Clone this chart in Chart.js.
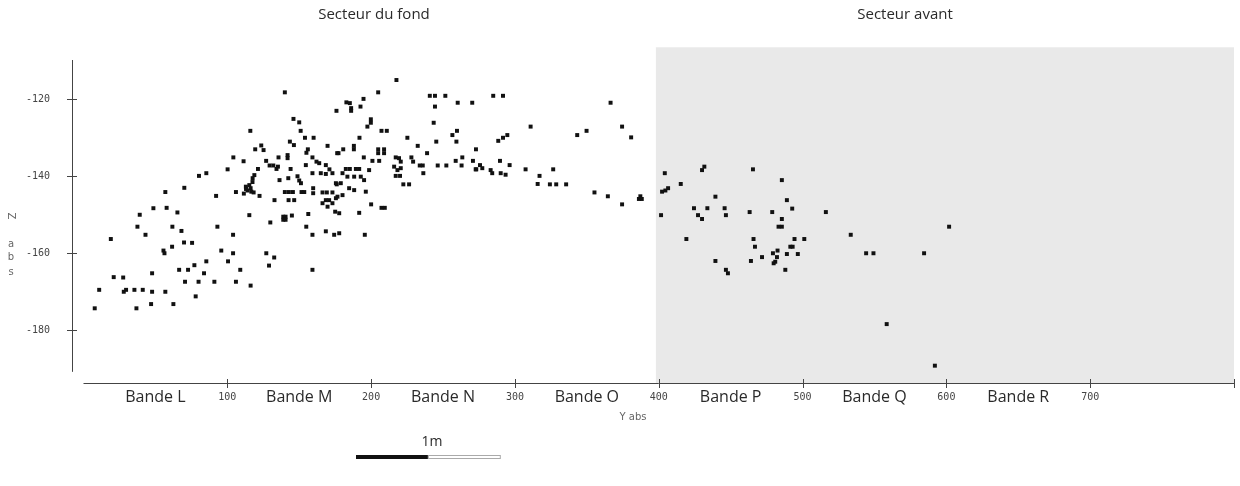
<!DOCTYPE html>
<html>
<head>
<meta charset="utf-8">
<script src="https://cdn.jsdelivr.net/npm/chart.js@4/dist/chart.umd.min.js"></script>
<style>
    html, body { margin: 0; background: #fff; }
    #wrap { width: 1240px; height: 486px; }
</style>
</head>
<body>
<div id="wrap"><canvas id="scatterChart"></canvas></div>
<script>
// Y obs (cm) and Z abs (cm) for each object
const yObs = [
    140, 116, 146, 150, 151, 154, 160, 143.5, 146.3, 123.6, 119.4, 125.2, 156, 155, 104.2, 111.3, 135.6, 141.9, 141.9, 159.2,
    162, 163.9, 127, 129.4, 132, 135.2, 134.2, 121.3, 144, 136.3, 142.4, 148.8, 150, 151.2, 80.3, 85.4, 100.2, 118.8, 117.6,
    112.9, 115.3, 116.2, 114.1, 116.7, 118.3, 111.5, 113, 117.5,
    106, 122.4, 132.8, 140, 142.8, 145.6, 151.6, 153.5, 70.1, 56.9, 92.2, 142.6, 146.5, 48.6, 57.8, 65.3, 39.1, 115.3,
    138.9, 140.5, 138.9, 140.5, 144.9, 129.9, 37.5, 61.8, 43.1, 68.1, 93.1, 104, 154.9, 159.2, 168.5, 19, 61.6, 69.9, 75.5,
    55.6, 56.3, 95.8, 104, 127.1, 132.6, 129, 85.4, 100.5, 77.1, 66.5, 72.7, 109, 159.2, 47.7, 83.8, 21, 27.6, 70.6, 80, 91,
    106, 116.2, 10.9, 28, 29.6, 35.4, 41.2, 47.7, 56.9, 78, 7.8, 36.8, 47, 62.5,
    175.9, 169.7, 176.4, 168.5, 171, 173.1, 154.6, 159.2, 165, 168.5, 176.1, 159.7, 159.7, 166.2, 169.2, 173.1, 170.8, 168.5,
    175.5, 166.2, 169.7, 175, 156.3,
    217.6, 204.9, 240.8, 244.4, 251.6, 260.2, 270.3, 182.8, 185.2, 186.1, 186.1, 194.7, 192.6, 244.4, 199.8, 199.8, 197.4,
    243.5, 207.2, 210.9, 259.7, 256.5, 225.2, 191.9, 245.3, 259.3, 232.4, 188, 188, 180.6, 177.3, 204.9, 204.9, 209, 209,
    272.9, 238.9, 194.9, 200.9, 205.6, 217.1, 219.4, 220.6, 216, 220.6, 218.3, 217.1, 220.1, 228, 229.2, 263.4, 258.8, 270.8,
    233.8, 235.9, 246.3, 252.3, 262.9, 273.1, 236.3, 222.4, 226.4, 200, 207.2, 209.5, 191.7,
    182.4, 185.2, 189.4, 191.7, 180.1, 183.5, 188.2, 192.8, 195.1, 198.6, 175.5, 178.9, 184.7, 188.2, 180.1, 176.6, 196.3,
    177.8, 173.1,
    284.9, 291.7, 310.9, 288.4, 291.7, 294.7, 275.7, 277.3, 283.1, 284.2, 289.6, 290.1, 293.5, 296.3, 307.4, 315.8, 317.1,
    366.5, 374.5, 343.3, 349.8, 380.8, 272.7, 326.6, 324.3, 328.7, 335.6, 355.3, 364.6, 374.5, 386.2, 387.2, 388.2, 404.2,
    401.6, 195.6, 174.3, 177.8,
    430.1, 431.7, 465.5, 485.6, 415.3, 402.3, 404.6, 406.5, 439.4, 489.1, 424.5, 433.8, 445.8, 446.7, 463.2, 478.9, 492.8,
    516.2, 427.3, 430.1, 485.6, 483.3, 485.6, 419.2, 465.9, 494.4, 501.2, 466.9, 491.5, 493.1, 482.6, 479.4, 471.8, 489.1,
    496.7, 482.2, 481, 479.9, 439.4, 464.1, 488, 446.7, 448.1,
    533.5, 544.2, 549.3, 584.5, 601.9, 558.5, 592
];
const zAbs = [
    -118.2, -128.2, -125.1, -126, -128.2, -130, -130, -131, -131.9, -132, -133, -133.2, -133, -133.9, -135.1, -136.1, -135.1, -134.5, -135.3, -135.1,
    -136.2, -136.6, -136, -137.2, -137.2, -137.5, -138.1, -138.1, -138.1, -141, -140.5, -140, -141.1, -141.8, -139.9, -139.2, -138.2, -139.7, -140.5,
    -142.7, -142.3, -143.1, -143.7, -144, -144.2, -144.5, -143.3, -141.5,
    -144.1, -145.1, -146.2, -144.1, -144.1, -144.1, -144.1, -144.1, -143, -144.1, -145.1, -146.2, -146.2, -148.3, -148.2, -149.4, -150, -150.1,
    -150.5, -150.5, -151.3, -151.3, -150.2, -152, -153.1, -153.1, -155.2, -154.2, -153.1, -155.2, -153.1, -155.2, -154.3, -156.3, -158.3, -157.2, -157.3,
    -159.3, -160, -159.3, -160, -160, -161.1, -163.2, -162.1, -162.1, -163.1, -164.3, -164.3, -164.3, -164.3, -165.2, -165.2, -166.2, -166.3, -167.4, -167.4, -167.4,
    -167.4, -168.4, -169.5, -170, -169.5, -169.5, -169.5, -170, -170, -171.2, -174.3, -174.3, -173.2, -173.2,
    -123, -132.1, -134, -137.1, -138.2, -139.2, -137.1, -139.2, -139.2, -139.4, -142.1, -143.1, -144.4, -144.2, -144.2, -144.2, -146.2, -146.2,
    -145.7, -147, -147.9, -149.2, -149.8,
    -115, -118.2, -119.1, -119.1, -119.1, -120.9, -120.9, -120.8, -121, -122.3, -123, -119.9, -121.9, -121.9, -125.2, -126.1, -127.1,
    -126.1, -128.2, -128.2, -128.2, -129.3, -130, -130, -131, -131, -132.1, -132.1, -133, -133, -134, -133, -134, -133, -134,
    -133, -134, -135.1, -136, -136, -135.1, -135.3, -136.2, -137.5, -137.9, -138.4, -139.9, -139.9, -135.1, -136.2, -135.1, -136, -136,
    -137.2, -137.2, -137.2, -137.2, -137.2, -138.2, -139.2, -142.1, -142.1, -147.3, -148.2, -148.2, -149.5,
    -138.1, -138.1, -138.1, -138.1, -139.2, -140.1, -140.1, -140.1, -141, -138.4, -141.8, -141.8, -143.1, -143.6, -144.9, -145.3, -144,
    -149.6, -147,
    -119.1, -119.1, -127.1, -130.8, -130, -129.3, -137.1, -137.9, -138.4, -139.2, -136, -139.2, -139.6, -137.1, -138.2, -142, -139.9,
    -120.9, -127.1, -129.3, -128.2, -129.9, -138.2, -138.2, -142.1, -142.1, -142.1, -144.2, -145.2, -147.3, -145.9, -145.2, -145.9, -139.2,
    -150.1, -155.2, -155.2, -154.8,
    -138.4, -137.5, -138.2, -141, -142, -144, -143.7, -143.1, -145.3, -146.2, -148.3, -148.3, -148.3, -150.1, -149.3, -149.3, -148.4,
    -149.3, -150.1, -151.1, -151.1, -153.1, -153.1, -156.3, -156.3, -156.3, -156.3, -158.3, -158.3, -158.3, -159.3, -160, -161, -160.2,
    -160.2, -161, -162.2, -162.6, -162, -162, -164.3, -164.3, -165.2,
    -155.2, -160, -160, -160, -153.1, -178.4, -189.2
];

// axis ticks and band labels
const xTickValues = [100, 200, 300, 400, 500, 600, 700, 800];
const xTickLabels = ['100', '200', '300', '400', '500', '600', '700', ''];
const bandCenters = [50, 150, 250, 350, 450, 550, 650];
const bandLabels = ['Bande L', 'Bande M', 'Bande N', 'Bande O', 'Bande P', 'Bande Q', 'Bande R'];
const zTickValues = [-120, -140, -160, -180];

// sectors
const sectorNames = ['Secteur du fond', 'Secteur avant'];
const avantStart = 398;
const avantEnd = 800;

const monoFont = { family: 'DejaVu Sans Mono', size: 10, lineHeight: '16px' };
const bandFont = { family: 'Open Sans', size: 16, lineHeight: '16px' };

const points = yObs.map((v, i) => ({ x: v, y: zAbs[i] }));

const sectorPlugin = {
    id: 'sectors',
    beforeDatasetsDraw(chart) {
        const { ctx, chartArea, scales: { x, y } } = chart;
        const left = x.getPixelForValue(avantStart);
        const right = x.getPixelForValue(avantEnd);
        const top = y.getPixelForValue(-106.5);
        ctx.save();
        ctx.fillStyle = '#e9e9e9';
        ctx.fillRect(left, top, right - left, chartArea.bottom - top);
        ctx.restore();
    },
    afterDatasetsDraw(chart) {
        const { ctx, chartArea, scales: { x, y } } = chart;
        const bottom = chartArea.bottom;
        const yAxisX = chartArea.left;
        ctx.save();
        ctx.strokeStyle = '#444';
        ctx.lineWidth = 1;

        // x axis line and ticks
        ctx.beginPath();
        ctx.moveTo(x.getPixelForValue(0), bottom + 0.5);
        ctx.lineTo(x.getPixelForValue(800), bottom + 0.5);
        xTickValues.forEach(v => {
            const px = Math.round(x.getPixelForValue(v)) + 0.5;
            ctx.moveTo(px, bottom - 4);
            ctx.lineTo(px, bottom + 5);
        });
        // z axis line and ticks
        ctx.moveTo(yAxisX + 0.5, chartArea.top);
        ctx.lineTo(yAxisX + 0.5, y.getPixelForValue(-190.8));
        zTickValues.forEach(v => {
            const py = Math.round(y.getPixelForValue(v)) + 0.5;
            ctx.moveTo(yAxisX - 5, py);
            ctx.lineTo(yAxisX + 5, py);
        });
        ctx.stroke();

        // sector titles
        ctx.fillStyle = '#2a2a2a';
        ctx.font = '15px "Open Sans"';
        ctx.textAlign = 'center';
        ctx.textBaseline = 'middle';
        ctx.fillText(sectorNames[0], 374, 15);
        ctx.fillText(sectorNames[1], 905, 15);

        // axis titles
        ctx.fillStyle = '#666';
        ctx.font = '10px "DejaVu Sans"';
        ctx.fillText('Y abs', 633, 417);
        ctx.save();
        ctx.translate(11, 216);
        ctx.rotate(Math.PI / 2);
        ctx.fillText('Z', 0, 0);
        ctx.restore();
        ctx.fillText('a', 11, 244);
        ctx.fillText('b', 11, 257);
        ctx.fillText('s', 11, 272);

        // scale bar, 1 m = 100 units on the Y obs axis
        const barLen = x.getPixelForValue(100) - x.getPixelForValue(0);
        const barX = 356;
        ctx.fillStyle = '#111';
        ctx.fillRect(barX, 455, barLen / 2, 4);
        ctx.strokeStyle = '#aaa';
        ctx.strokeRect(barX + barLen / 2 + 0.5, 455.5, barLen / 2, 3);
        ctx.fillStyle = '#2a2a2a';
        ctx.font = '14px "Open Sans"';
        ctx.fillText('1m', barX + barLen / 2 + 4, 442);
        ctx.restore();
    }
};

new Chart(document.getElementById('scatterChart'), {
    type: 'scatter',
    data: {
        datasets: [{
            label: 'Z abs',
            data: points,
            pointStyle: 'rect',
            pointRadius: 2.8,
            borderWidth: 0,
            backgroundColor: '#111'
        }]
    },
    options: {
        responsive: true,
        maintainAspectRatio: false,
        animation: false,
        layout: { padding: { top: 60, right: 4, left: 0, bottom: 0 } },
        plugins: { legend: { display: false }, tooltip: { enabled: false } },
        scales: {
            x: {
                type: 'linear',
                min: -8,
                max: 800,
                grid: { display: false, drawTicks: false },
                border: { display: false },
                afterBuildTicks: axis => {
                    axis.ticks = bandCenters.concat(xTickValues).sort((a, b) => a - b).map(v => ({ value: v }));
                },
                afterFit: axis => { axis.height = 103; },
                ticks: {
                    autoSkip: false,
                    maxRotation: 0,
                    padding: 6,
                    callback: v => {
                        const b = bandCenters.indexOf(v);
                        if (b >= 0) return bandLabels[b];
                        return xTickLabels[xTickValues.indexOf(v)];
                    },
                    font: c => (c.tick && bandCenters.includes(c.tick.value)) ? bandFont : monoFont,
                    color: c => (c.tick && bandCenters.includes(c.tick.value)) ? '#2a2a2a' : '#444'
                }
            },
            y: {
                min: -193.7,
                max: -109.8,
                grid: { display: false, drawTicks: false },
                border: { display: false },
                afterBuildTicks: axis => {
                    axis.ticks = zTickValues.map(v => ({ value: v }));
                },
                afterFit: axis => { axis.width = 72; },
                ticks: {
                    padding: 22,
                    font: monoFont,
                    color: '#444',
                    callback: v => String(v)
                }
            }
        }
    },
    plugins: [sectorPlugin]
});
</script>
</body>
</html>
